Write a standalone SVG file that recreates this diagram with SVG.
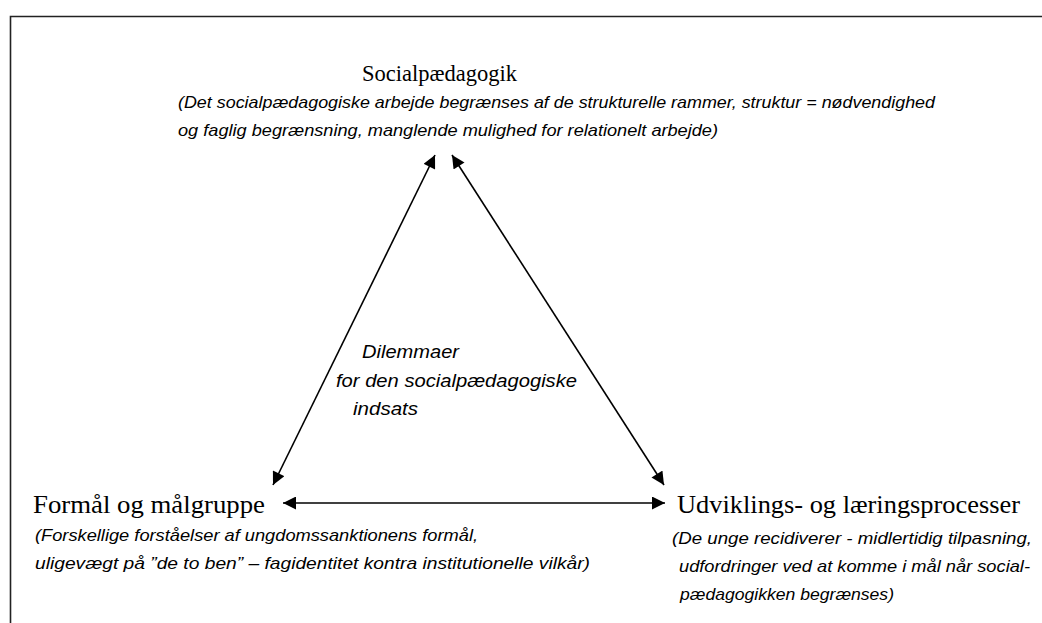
<svg xmlns="http://www.w3.org/2000/svg" width="1042" height="623" viewBox="0 0 1042 623">
<defs>
<marker id="ah" viewBox="0 0 10 10" refX="10" refY="5" markerWidth="14" markerHeight="13" markerUnits="userSpaceOnUse" orient="auto-start-reverse">
<path d="M0,0 L10,5 L0,10 z" fill="#000"/>
</marker>
<style>
.h{font-family:"Liberation Serif","Times New Roman",serif;fill:#000;}
.s{font-family:"Liberation Sans",Arial,sans-serif;font-style:italic;fill:#000;}
.c{stroke:#000;stroke-width:1.6;fill:none;marker-start:url(#ah);marker-end:url(#ah);}
</style>
</defs>
<rect width="1042" height="623" fill="#fff"/>
<path d="M10.5,623 V16.5 H1042" fill="none" stroke="#222" stroke-width="1.6"/>
<g id="connectors">
<line class="c" x1="273" y1="485" x2="435" y2="155"/>
<line class="c" x1="452" y1="155" x2="664" y2="485"/>
<line class="c" x1="283" y1="503" x2="665" y2="503"/>
</g>
<g id="node-socialpaedagogik">
<text class="h" x="362" y="81" font-size="24" textLength="155" lengthAdjust="spacingAndGlyphs">Socialpædagogik</text>
<text class="s" x="178" y="108" font-size="17" textLength="757" lengthAdjust="spacingAndGlyphs">(Det socialpædagogiske arbejde begrænses af de strukturelle rammer, struktur = nødvendighed</text>
<text class="s" x="178" y="136" font-size="17" textLength="540" lengthAdjust="spacingAndGlyphs">og faglig begrænsning, manglende mulighed for relationelt arbejde)</text>
</g>
<g id="node-center">
<text class="s" x="362" y="358" font-size="19" textLength="97" lengthAdjust="spacingAndGlyphs">Dilemmaer</text>
<text class="s" x="336" y="387" font-size="19" textLength="241" lengthAdjust="spacingAndGlyphs">for den socialpædagogiske</text>
<text class="s" x="353" y="415" font-size="19" textLength="65" lengthAdjust="spacingAndGlyphs">indsats</text>
</g>
<g id="node-formaal">
<text class="h" x="33" y="513" font-size="26" textLength="232" lengthAdjust="spacingAndGlyphs">Formål og målgruppe</text>
<text class="s" x="35" y="541" font-size="17" textLength="443" lengthAdjust="spacingAndGlyphs">(Forskellige forståelser af ungdomssanktionens formål,</text>
<text class="s" x="35" y="569" font-size="17" textLength="555" lengthAdjust="spacingAndGlyphs">uligevægt på ”de to ben” – fagidentitet kontra institutionelle vilkår)</text>
</g>
<g id="node-udvikling">
<text class="h" x="677" y="513" font-size="26" textLength="343" lengthAdjust="spacingAndGlyphs">Udviklings- og læringsprocesser</text>
<text class="s" x="672" y="544" font-size="17" textLength="360" lengthAdjust="spacingAndGlyphs">(De  unge recidiverer - midlertidig tilpasning,</text>
<text class="s" x="679" y="572" font-size="17" textLength="351" lengthAdjust="spacingAndGlyphs">udfordringer ved at komme  i mål når social-</text>
<text class="s" x="680" y="600" font-size="17" textLength="214" lengthAdjust="spacingAndGlyphs">pædagogikken begrænses)</text>
</g>
</svg>
